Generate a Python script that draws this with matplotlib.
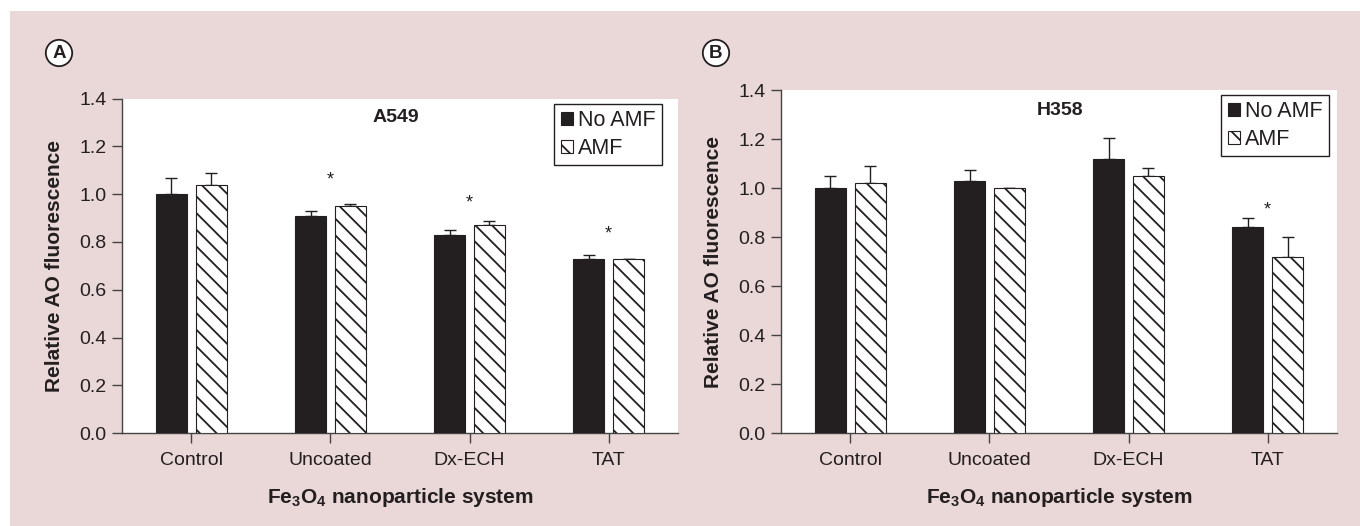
import matplotlib
matplotlib.use("Agg")
import matplotlib.pyplot as plt
from matplotlib.patches import Rectangle, Patch
import numpy as np

# === Data ===
categories = ["Control", "Uncoated", "Dx-ECH", "TAT"]
series_names = ["No AMF", "AMF"]

a549_no_amf = [1.00, 0.91, 0.83, 0.73]
a549_no_amf_err = [0.066, 0.020, 0.020, 0.017]
a549_amf = [1.04, 0.95, 0.87, 0.73]
a549_amf_err = [0.050, 0.008, 0.018, 0.0]
a549_stars = {1: 1.058, 2: 0.963, 3: 0.832}

h358_no_amf = [1.00, 1.03, 1.12, 0.84]
h358_no_amf_err = [0.049, 0.044, 0.087, 0.037]
h358_amf = [1.02, 1.00, 1.05, 0.72]
h358_amf_err = [0.070, 0.003, 0.034, 0.080]
h358_stars = {3: 0.91}

yticks = [0.0, 0.2, 0.4, 0.6, 0.8, 1.0, 1.2, 1.4]

# === Style ===
W, H = 1360, 526
TXT = "#231f20"
PINK = "#ead7d7"
plt.rcParams["font.family"] = ["Liberation Sans", "DejaVu Sans"]
plt.rcParams["mathtext.fontset"] = "custom"
plt.rcParams["mathtext.rm"] = "Liberation Sans"
plt.rcParams["mathtext.bf"] = "Liberation Sans:bold"
plt.rcParams["hatch.linewidth"] = 1.3
plt.rcParams["hatch.color"] = TXT

fig = plt.figure(figsize=(W / 100, H / 100), dpi=100)
fig.patch.set_facecolor("white")
fig.patches.append(Rectangle((10 / W, 0), 1, 1 - 11 / H, transform=fig.transFigure,
                             facecolor=PINK, edgecolor="none", zorder=-10))


def px_axes(left, right, top, bottom):
    return fig.add_axes([left / W, 1 - bottom / H, (right - left) / W, (bottom - top) / H])


def panel(ax, no_amf, no_err, amf, amf_err, stars, title, title_x, legend_anchor):
    x = np.arange(len(categories))
    w = 0.225
    off = 0.143
    ax.bar(x - off, no_amf, w, color=TXT, edgecolor=TXT, linewidth=0.8, zorder=3)
    ax.bar(x + off, amf, w, color="white", edgecolor=TXT, linewidth=0.8,
           hatch="\\\\", zorder=3)
    zeros = [0] * len(categories)
    ax.errorbar(x - off, no_amf, yerr=[zeros, no_err], fmt="none", ecolor=TXT,
                elinewidth=1, capsize=4, capthick=1, zorder=2)
    ax.errorbar(x + off, amf, yerr=[zeros, amf_err], fmt="none", ecolor=TXT,
                elinewidth=1, capsize=4, capthick=1, zorder=2)
    for i, yv in stars.items():
        ax.text(i, yv, "*", ha="center", va="center", fontsize=13, color=TXT)

    ax.set_xlim(-0.5, 3.5)
    ax.set_ylim(0, 1.4)
    ax.set_xticks(x)
    ax.set_xticklabels(categories)
    ax.set_yticks(yticks)
    ax.set_yticklabels([f"{t:.1f}" for t in yticks])
    ax.tick_params(axis="both", direction="out", length=7.2, width=1, color="#444444",
                   labelsize=14, labelcolor=TXT)
    ax.tick_params(axis="x", pad=6.5)
    ax.tick_params(axis="y", pad=3.5)
    for s in ["top", "right"]:
        ax.spines[s].set_visible(False)
    for s in ["left", "bottom"]:
        ax.spines[s].set_color("#444444")
        ax.spines[s].set_linewidth(1)

    ax.set_ylabel("Relative AO fluorescence", fontsize=15, fontweight="bold", color=TXT)
    ax.yaxis.set_label_coords(-0.103, 0.5)
    ax.set_xlabel(r"$\mathbf{Fe_3O_4}$ nanoparticle system", fontsize=15,
                  fontweight="bold", color=TXT, labelpad=12)
    ax.text(title_x, 1.32, title, transform=ax.get_yaxis_transform(),
            ha="center", va="center", fontsize=14, fontweight="bold", color=TXT)

    handles = [Patch(facecolor=TXT, edgecolor=TXT, linewidth=0.8),
               Patch(facecolor="white", edgecolor=TXT, linewidth=0.8, hatch="\\\\")]
    leg = ax.legend(handles, series_names, loc="upper right",
                    bbox_to_anchor=(legend_anchor[0] / W, 1 - legend_anchor[1] / H),
                    bbox_transform=fig.transFigure, fontsize=15.5, frameon=True,
                    fancybox=False, framealpha=1, edgecolor=TXT, borderpad=0.3,
                    handlelength=0.55, handleheight=0.55, handletextpad=0.25,
                    labelspacing=0.3, borderaxespad=0)
    leg.get_frame().set_linewidth(1)
    for t in leg.get_texts():
        t.set_color(TXT)


ax_a = px_axes(121.7, 678.3, 98.5, 433.3)
panel(ax_a, a549_no_amf, a549_no_amf_err, a549_amf, a549_amf_err, a549_stars,
      "A549", 0.493, (662, 104))

ax_b = px_axes(780.7, 1337.3, 90.5, 433.0)
panel(ax_b, h358_no_amf, h358_no_amf_err, h358_amf, h358_amf_err, h358_stars,
      "H358", 0.502, (1329, 95))

# === Panel letters ===
for lbl, cx in [("A", 59), ("B", 716)]:
    fig.text(cx / W, 1 - 53 / H, lbl, ha="center", va="center", fontsize=13.5,
             fontweight="bold", color=TXT,
             bbox=dict(boxstyle="circle,pad=0.25", facecolor="white", edgecolor=TXT,
                       linewidth=1.3))

fig.savefig("out.png", dpi=100)
